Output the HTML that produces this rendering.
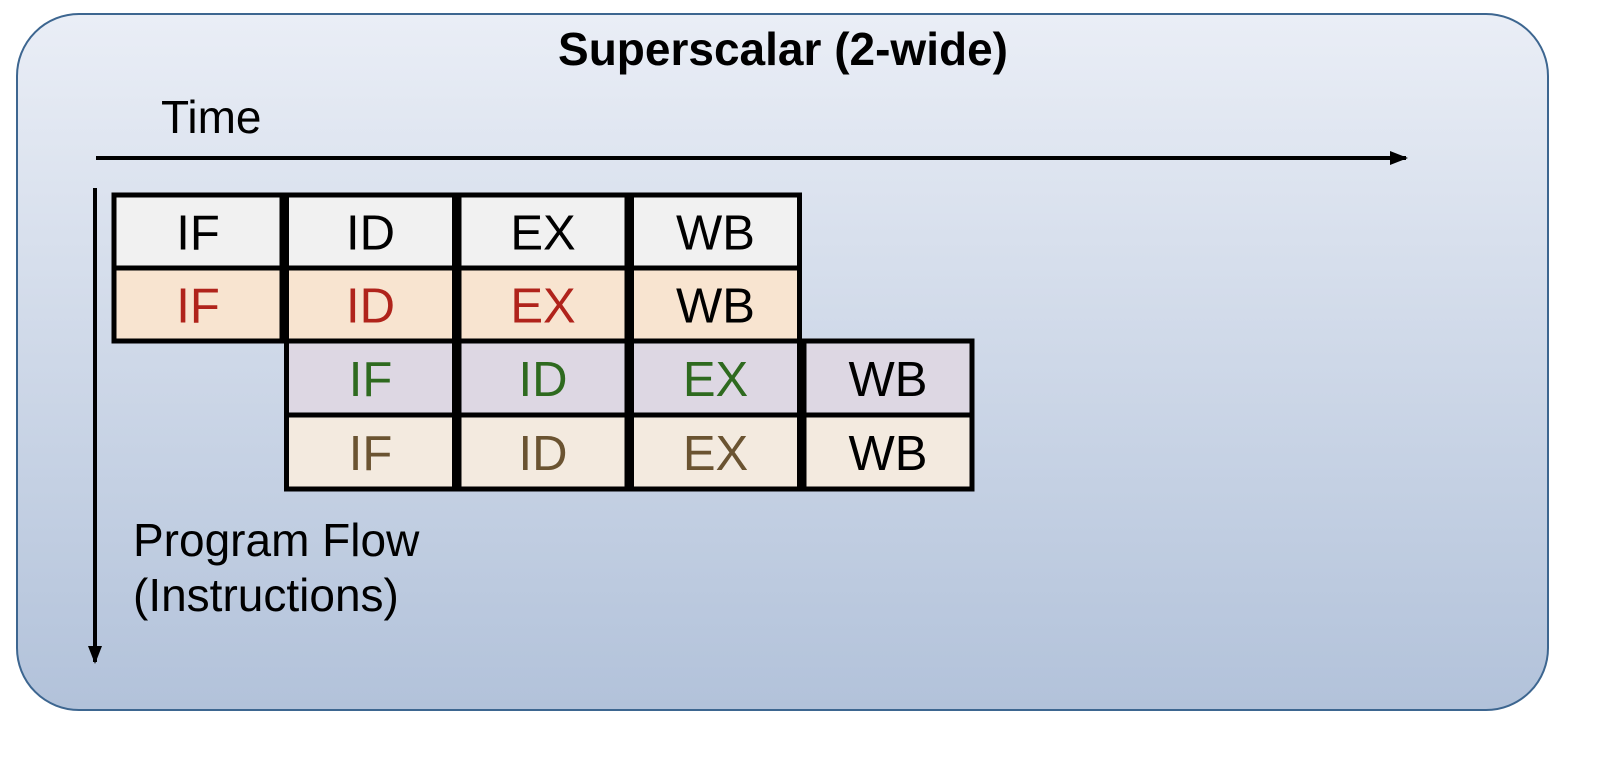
<!DOCTYPE html>
<html><head><meta charset="utf-8"><style>
html,body{margin:0;padding:0;background:#fff;width:1604px;height:762px;overflow:hidden}
svg{display:block;font-family:"Liberation Sans",Arial,sans-serif}
</style></head><body>
<svg width="1604" height="762" viewBox="0 0 1604 762">
<defs>
<linearGradient id="bg" x1="0" y1="0" x2="0" y2="1">
<stop offset="0" stop-color="#eaeef6"/><stop offset="1" stop-color="#b2c2da"/>
</linearGradient>
<marker id="ah" markerWidth="18" markerHeight="14" refX="16" refY="7" orient="auto" markerUnits="userSpaceOnUse"><path d="M0,0 L18,7 L0,14 Z" fill="#000"/></marker>
</defs>
<rect x="17" y="14" width="1531" height="696" rx="62" ry="62" fill="url(#bg)" stroke="#3d6690" stroke-width="2"/>
<text x="783" y="65" font-size="46" font-weight="bold" text-anchor="middle">Superscalar (2-wide)</text>
<text x="161" y="133" font-size="46">Time</text>
<line x1="96" y1="158" x2="1406" y2="158" stroke="#000" stroke-width="4" marker-end="url(#ah)"/>
<line x1="95" y1="188" x2="95" y2="662" stroke="#000" stroke-width="4" marker-end="url(#ah)"/>
<text x="133" y="556" font-size="46">Program Flow</text>
<text x="133" y="611" font-size="46">(Instructions)</text>
<g id="cells"></g>
</svg>
<script>
const stages=["IF","ID","EX","WB"];
const rowStart=[0,0,1,1];
const rowFill=["#f1f1f1","#f8e4d0","#ddd7e3","#f3eadf"];
const rowColor=["#000","#b0231b","#2e6a1f","#6a5331"];
const g=document.getElementById('cells');
const NS="http://www.w3.org/2000/svg";
const x0=114,pitch=172.5,cw=168,ys=[195,268,341,415],ch=[73,73,74,74];
rowStart.forEach((s,r)=>{
  stages.forEach((st,c)=>{
    const x=x0+(s+c)*pitch;
    const rect=document.createElementNS(NS,'rect');
    
    
    rect.setAttribute('x',x);rect.setAttribute('y',ys[r]);
    rect.setAttribute('width',cw);rect.setAttribute('height',ch[r]);
    rect.setAttribute('fill',rowFill[r]);rect.setAttribute('stroke','#000');rect.setAttribute('stroke-width','5');
    g.appendChild(rect);
    const t=document.createElementNS(NS,'text');
    
    
    t.setAttribute('x',x+cw/2);t.setAttribute('y',ys[r]+ch[r]/2+18);
    t.setAttribute('font-size','49');t.setAttribute('text-anchor','middle');
    t.setAttribute('fill',st==="WB"?"#000":rowColor[r]);
    t.textContent=st;g.appendChild(t);
  });
});
</script>
</body></html>
